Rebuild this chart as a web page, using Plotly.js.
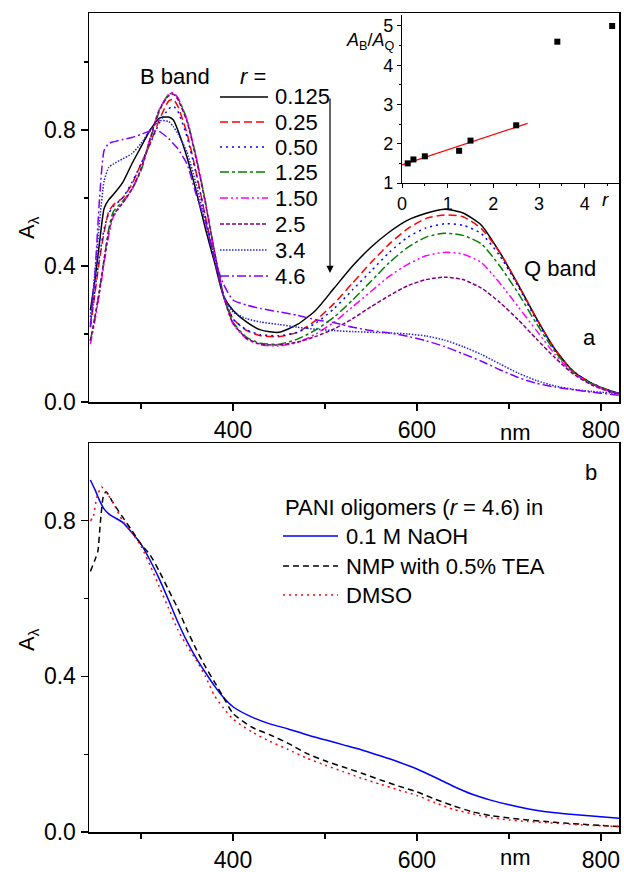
<!DOCTYPE html>
<html><head><meta charset="utf-8">
<script src="https://cdn.plot.ly/plotly-3.0.1.min.js"></script>
<style>html,body{margin:0;padding:0;background:#fff}#chart{width:624px;height:872px}</style>
</head><body><div id="chart"></div>
<script>
// ---------- Panel a: spectra for different r ----------
const wlA = [245,250,255,260,265,270,280,290,300,310,320,330,335,340,350,360,370,380,390,400,415,430,450,470,490,510,530,550,570,590,610,630,650,670,690,710,730,750,770,790,810,820];
const rLabels = ['0.125','0.25','0.50','1.25','1.50','2.5','3.4','4.6'];
const A_r0125 = [0.27,0.36,0.47,0.57,0.595,0.61,0.645,0.70,0.75,0.80,0.835,0.838,0.83,0.80,0.72,0.62,0.51,0.41,0.31,0.27,0.235,0.212,0.205,0.228,0.27,0.335,0.40,0.455,0.50,0.535,0.555,0.567,0.556,0.52,0.44,0.345,0.245,0.155,0.09,0.055,0.033,0.025];
const A_r025  = [0.22,0.32,0.42,0.50,0.56,0.58,0.60,0.64,0.70,0.76,0.83,0.885,0.89,0.87,0.79,0.675,0.545,0.42,0.31,0.245,0.21,0.195,0.192,0.205,0.24,0.29,0.35,0.41,0.465,0.51,0.54,0.55,0.545,0.51,0.44,0.345,0.245,0.155,0.09,0.055,0.033,0.025];
const A_r050  = [0.23,0.33,0.43,0.51,0.555,0.575,0.60,0.645,0.70,0.76,0.82,0.862,0.87,0.855,0.78,0.67,0.545,0.42,0.31,0.245,0.212,0.198,0.195,0.205,0.232,0.275,0.33,0.385,0.44,0.485,0.512,0.524,0.52,0.495,0.43,0.34,0.24,0.153,0.09,0.055,0.033,0.025];
const A_r125  = [0.18,0.25,0.33,0.42,0.51,0.56,0.59,0.625,0.68,0.77,0.855,0.905,0.908,0.895,0.83,0.72,0.59,0.44,0.31,0.235,0.19,0.173,0.17,0.185,0.212,0.25,0.30,0.355,0.41,0.455,0.485,0.496,0.49,0.465,0.40,0.32,0.23,0.148,0.087,0.053,0.032,0.024];
const A_r150  = [0.17,0.24,0.32,0.41,0.49,0.545,0.585,0.625,0.685,0.775,0.86,0.905,0.91,0.895,0.83,0.72,0.59,0.44,0.31,0.23,0.185,0.168,0.165,0.175,0.20,0.235,0.28,0.325,0.37,0.405,0.43,0.44,0.435,0.41,0.35,0.28,0.21,0.14,0.085,0.052,0.031,0.024];
const A_r25   = [0.18,0.25,0.33,0.42,0.50,0.55,0.585,0.625,0.685,0.775,0.86,0.90,0.905,0.89,0.825,0.715,0.585,0.44,0.31,0.232,0.187,0.17,0.168,0.176,0.193,0.215,0.245,0.28,0.313,0.342,0.36,0.367,0.36,0.335,0.293,0.242,0.185,0.13,0.082,0.05,0.03,0.023];
const A_r34   = [0.25,0.38,0.53,0.65,0.69,0.70,0.715,0.73,0.76,0.80,0.827,0.825,0.81,0.79,0.735,0.64,0.53,0.42,0.31,0.265,0.245,0.235,0.228,0.22,0.214,0.21,0.207,0.205,0.203,0.20,0.194,0.182,0.163,0.14,0.112,0.085,0.063,0.047,0.037,0.031,0.027,0.025];
const A_r46   = [0.22,0.38,0.60,0.74,0.76,0.765,0.772,0.778,0.787,0.797,0.795,0.775,0.76,0.745,0.70,0.61,0.53,0.42,0.345,0.30,0.285,0.275,0.265,0.255,0.242,0.233,0.22,0.21,0.203,0.193,0.18,0.163,0.142,0.12,0.095,0.072,0.055,0.044,0.036,0.029,0.023,0.02];

// ---------- Inset: A_B/A_Q vs r ----------
const inset_r     = [0.125,0.25,0.5,1.25,1.5,2.5,3.4,4.6];
const inset_ratio = [1.50,1.60,1.68,1.82,2.08,2.47,4.60,5.00];
const fit_r     = [0, 2.75];
const fit_ratio = [1.46, 2.52];

// ---------- Panel b: r = 4.6 in different solvents ----------
const solventLabels = ['0.1 M NaOH','NMP with 0.5% TEA','DMSO'];
const wl_NaOH = [245,250,255,260,265,270,280,290,300,310,320,330,340,350,360,370,380,390,400,420,440,460,480,500,520,540,560,580,600,620,640,660,680,700,720,740,760,780,800,820];
const A_NaOH  = [0.905,0.88,0.852,0.83,0.818,0.81,0.796,0.77,0.74,0.698,0.65,0.596,0.54,0.49,0.447,0.41,0.375,0.345,0.322,0.296,0.278,0.265,0.25,0.237,0.224,0.211,0.196,0.18,0.162,0.14,0.117,0.097,0.082,0.07,0.06,0.052,0.047,0.043,0.039,0.035];
const wl_NMP  = [245,250,253,256,259,262,270,280,290,300,310,320,330,340,350,360,370,380,390,400,420,440,460,480,500,520,540,560,580,600,620,640,660,680,700,720,740,760,780,800,820];
const A_NMP   = [0.67,0.70,0.72,0.80,0.862,0.875,0.845,0.81,0.775,0.74,0.712,0.67,0.622,0.575,0.52,0.47,0.425,0.385,0.345,0.305,0.27,0.25,0.228,0.202,0.183,0.167,0.151,0.134,0.118,0.103,0.084,0.067,0.052,0.042,0.036,0.031,0.027,0.023,0.02,0.017,0.014];
const wl_DMSO = [245,248,252,257,262,270,280,290,300,310,320,330,340,350,360,370,380,390,400,420,440,460,480,500,520,540,560,580,600,620,640,660,680,700,720,740,760,780,800,820];
const A_DMSO  = [0.80,0.81,0.86,0.887,0.875,0.845,0.80,0.77,0.735,0.685,0.63,0.575,0.52,0.478,0.442,0.40,0.35,0.318,0.29,0.258,0.233,0.212,0.19,0.172,0.155,0.138,0.123,0.108,0.094,0.075,0.058,0.047,0.037,0.031,0.027,0.024,0.021,0.018,0.016,0.014];

// ---------- styles ----------
const W = 624, H = 872;
const FONT = 'Liberation Sans, Arial, Helvetica, sans-serif';
const styA = [
  {color:'#000000', dash:'solid'},
  {color:'#FF0000', dash:'8px,4px'},
  {color:'#0000FF', dash:'2px,4px'},
  {color:'#008000', dash:'9px,3px,3px,3px'},
  {color:'#FF00FF', dash:'8px,3px,2px,3px,2px,3px'},
  {color:'#800080', dash:'4px,2px'},
  {color:'#2020E0', dash:'1.5px,1.5px'},
  {color:'#8000FF', dash:'9px,3px,2px,3px'}
];
const styB = [
  {color:'#0000FF', dash:'solid'},
  {color:'#000000', dash:'6px,4px'},
  {color:'#FF0000', dash:'2px,4px'}
];
const seriesA = [A_r0125,A_r025,A_r050,A_r125,A_r150,A_r25,A_r34,A_r46];
const px = x => x / W;
const py = y => 1 - y / H;

const traces = [];
seriesA.forEach((ys, i) => {
  traces.push({x: wlA, y: ys, xaxis:'x', yaxis:'y', type:'scatter', mode:'lines',
    name: rLabels[i], line:{color: styA[i].color, dash: styA[i].dash, width:1.5, shape:'spline', smoothing:0.6}});
});
traces.push({x: fit_r, y: fit_ratio, xaxis:'x3', yaxis:'y3', type:'scatter', mode:'lines',
  line:{color:'#FF0000', width:1.3}});
traces.push({x: inset_r, y: inset_ratio, xaxis:'x3', yaxis:'y3', type:'scatter', mode:'markers',
  marker:{symbol:'square', size:6, color:'#000000'}});
[[wl_NaOH,A_NaOH],[wl_NMP,A_NMP],[wl_DMSO,A_DMSO]].forEach((d, i) => {
  traces.push({x: d[0], y: d[1], xaxis:'x2', yaxis:'y2', type:'scatter', mode:'lines',
    name: solventLabels[i], line:{color: styB[i].color, dash: styB[i].dash, width:1.5, shape:'spline', smoothing:0.6}});
});

const xDom = [px(89), px(619)];
const axisCommon = {showline:true, linecolor:'#000', linewidth:1.5, mirror:true, ticks:'outside',
  ticklen:7, tickwidth:1.3, tickcolor:'#000', showgrid:false, zeroline:false,
  tickfont:{family:FONT, size:23, color:'#000'}};

const shapes = [];
const annotations = [];
// Panel a legend samples
const legARows = [97,122,147,172,198,224,250,276];
legARows.forEach((y, i) => {
  shapes.push({type:'line', xref:'paper', yref:'paper', x0:px(220), x1:px(268), y0:py(y), y1:py(y),
    line:{color: styA[i].color, dash: styA[i].dash, width:1.5}});
  annotations.push({xref:'paper', yref:'paper', x:px(273), y:py(y), xanchor:'left', yanchor:'middle',
    text: rLabels[i], showarrow:false, font:{family:FONT, size:22, color:'#000'}});
});
// Panel b legend samples
const legBRows = [536,566,595];
legBRows.forEach((y, i) => {
  shapes.push({type:'line', xref:'paper', yref:'paper', x0:px(283), x1:px(338), y0:py(y), y1:py(y),
    line:{color: styB[i].color, dash: styB[i].dash, width:1.5}});
  annotations.push({xref:'paper', yref:'paper', x:px(344), y:py(y), xanchor:'left', yanchor:'middle',
    text: solventLabels[i], showarrow:false, font:{family:FONT, size:22, color:'#000'}});
});
const txt = (x, y, t, opts) => Object.assign({xref:'paper', yref:'paper', x:px(x), y:py(y), text:t,
  showarrow:false, xanchor:'center', yanchor:'middle', font:{family:FONT, size:22, color:'#000'}}, opts || {});
annotations.push(
  txt(175, 76, 'B band'),
  txt(238, 76, '<i>r</i> =', {xanchor:'left'}),
  txt(560, 268, 'Q band'),
  txt(589, 337, 'a'),
  txt(591, 472, 'b'),
  txt(283, 507, 'PANI oligomers (<i>r</i> = 4.6) in', {xanchor:'left'}),
  txt(515, 432, 'nm'),
  txt(515, 857, 'nm'),
  txt(28, 228, 'A<sub>λ</sub>', {textangle:-90}),
  txt(28, 640, 'A<sub>λ</sub>', {textangle:-90}),
  txt(370, 42, '<i>A</i><sub>B</sub>/<i>A</i><sub>Q</sub>', {font:{family:FONT, size:18, color:'#000'}}),
  txt(605, 199, '<i>r</i>', {font:{family:FONT, size:19, color:'#000'}})
);
// arrow
annotations.push({xref:'paper', yref:'paper', x:px(330), y:py(273), ax:0, ay:-176, text:'',
  showarrow:true, arrowhead:2, arrowsize:1.2, arrowwidth:1.2, arrowcolor:'#000'});

const layout = {
  width: W, height: H,
  margin:{l:0, r:0, t:0, b:0},
  paper_bgcolor:'#fff', plot_bgcolor:'rgba(0,0,0,0)',
  showlegend:false,
  font:{family:FONT, color:'#000'},
  xaxis: Object.assign({}, axisCommon, {domain:xDom, anchor:'y', range:[243.5,819.6],
    tickvals:[400,600,800], minor:{tickvals:[300,500,700], ticks:'outside', ticklen:5, tickwidth:1.3, tickcolor:'#000'}}),
  yaxis: Object.assign({}, axisCommon, {domain:[py(402), py(13)], anchor:'x', range:[0,1.144],
    tickvals:[0,0.4,0.8], tickformat:'.1f', minor:{tickvals:[0.2,0.6,1.0], ticks:'outside', ticklen:4, tickwidth:1.3, tickcolor:'#000'}}),
  xaxis2: Object.assign({}, axisCommon, {domain:xDom, anchor:'y2', range:[243.5,819.6],
    tickvals:[400,600,800], minor:{tickvals:[300,500,700], ticks:'outside', ticklen:5, tickwidth:1.3, tickcolor:'#000'}}),
  yaxis2: Object.assign({}, axisCommon, {domain:[py(832), py(443)], anchor:'x2', range:[0,1.0],
    tickvals:[0,0.4,0.8], tickformat:'.1f', minor:{tickvals:[0.2,0.6], ticks:'outside', ticklen:4, tickwidth:1.3, tickcolor:'#000'}}),
  xaxis3: {domain:[px(402), px(619)], anchor:'y3', range:[0,4.75], showline:true, linecolor:'#000', linewidth:1.2,
    ticks:'outside', ticklen:4, tickcolor:'#000', tickvals:[0,1,2,3,4], showgrid:false, zeroline:false,
    minor:{tickvals:[0.5,1.5,2.5,3.5,4.5], ticks:'outside', ticklen:2, tickcolor:'#000'},
    tickfont:{family:FONT, size:18, color:'#000'}},
  yaxis3: {domain:[py(183), py(15)], anchor:'x3', range:[1,5.28], showline:true, linecolor:'#000', linewidth:1.2,
    ticks:'outside', ticklen:4, tickcolor:'#000', tickvals:[1,2,3,4,5], showgrid:false, zeroline:false,
    minor:{tickvals:[1.5,2.5,3.5,4.5], ticks:'outside', ticklen:2, tickcolor:'#000'},
    tickfont:{family:FONT, size:18, color:'#000'}},
  shapes: shapes,
  annotations: annotations
};
Plotly.newPlot('chart', traces, layout, {staticPlot:true, displayModeBar:false});
</script>
</body></html>
